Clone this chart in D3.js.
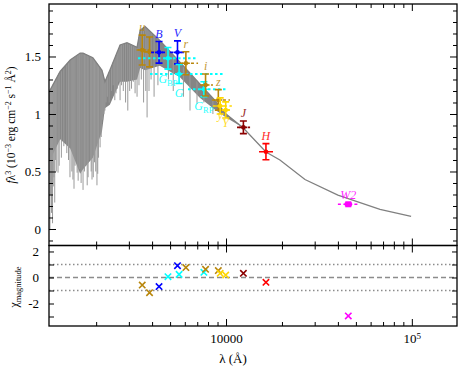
<!DOCTYPE html>
<html lang="en">
<head>
<meta charset="UTF-8">
<title>SED fit</title>
<script src="https://d3js.org/d3.v7.min.js"></script>
<style>
    body { margin: 0; background: #fff; }
    svg { font-family: "Liberation Serif", "DejaVu Serif", serif; }
    .axis path { display: none; }
    .axis line { stroke: #000; stroke-width: 1; }
    .axis text { font-size: 13px; fill: #000; font-family: "Liberation Serif", serif; }
</style>
</head>
<body>
<script>
    // model spectrum (wavelength in Angstrom, f*lambda^3)
    const specWave  = [1115, 1280, 1450, 1640, 1700, 1920, 2150, 2230, 2370, 2690, 2930, 3320, 3450, 3670, 4400, 5650, 7250, 8700, 10000, 12350, 16400, 19500, 26600, 40000, 67400, 99100];
    const specUpper = [1.19, 1.37, 1.47, 1.53, 1.53, 1.49, 1.38, 1.28, 1.38, 1.60, 1.62, 1.58, 1.73, 1.76, 1.64, 1.45, 1.26, 1.12, 1.00, 0.88, 0.67, 0.60, 0.43, 0.295, 0.17, 0.11];
    const specLower = [0.58, 0.78, 0.70, 0.48, 0.52, 0.62, 0.85, 1.05, 1.08, 1.28, 1.28, 1.30, 1.40, 1.38, 1.42, 1.32, 1.14, 1.04, 0.97, 0.88, 0.67, 0.60, 0.43, 0.295, 0.17, 0.11];

    // deep absorption lines: wavelength and bottom value
    const lineWave = [1128, 1135, 1150, 1165, 1175, 1185, 1197, 1210, 1220, 1247, 1265, 1300, 1340, 1390, 1420, 1446, 1480, 1500, 1520, 1540, 1580, 1600, 1630, 1660, 1700, 1730, 1760, 1790, 1810, 1860, 1880, 1900, 1930, 1960, 1990, 2020, 2040, 2060, 2100, 2130, 2170, 2200, 2230, 2260, 2300, 2350, 2420, 2470, 2520, 2560, 2600, 2650, 2690, 2740, 2800, 2880, 2960, 3030, 3100, 3170, 3240, 3320, 3400, 3500, 3600, 3700, 3760, 3850, 3950, 4100, 4300, 4900, 5200, 5900, 6400, 6980, 7600, 8500];
    const lineDepth = [-0.01, 0.30, 0.14, 0.05, 0.37, 0.45, 0.23, 0.60, 0.50, 0.49, 0.55, 0.62, 0.72, 0.66, 0.60, 0.45, 0.50, 0.43, 0.35, 0.55, 0.49, 0.42, 0.52, 0.40, 0.34, 0.50, 0.55, 0.38, 0.45, 0.60, 0.50, 0.43, 0.45, 0.58, 0.50, 0.38, 0.48, 0.62, 0.71, 0.80, 0.95, 1.00, 1.03, 1.10, 1.15, 1.10, 1.20, 1.25, 1.12, 1.18, 1.22, 1.28, 1.12, 1.25, 1.20, 1.10, 1.03, 1.20, 1.22, 1.28, 1.18, 1.15, 1.25, 1.30, 1.10, 1.20, 0.97, 1.20, 1.30, 1.15, 1.25, 1.30, 1.20, 1.15, 1.03, 1.09, 1.10, 1.00];

    // photometry
    const bands    = ["u", "u2", "B", "V", "BP", "G", "RP", "r", "i", "z", "y", "Y", "J", "H", "W2"];
    const bandWave = [3540, 3875, 4360, 5480, 4870, 5590, 7600, 6080, 7760, 9090, 9300, 9960, 12400, 16400, 45500];
    const bandLo   = [3300, 3600, 3950, 5000, 3360, 3900, 6240, 5650, 7240, 8400, 8500, 9500, 11460, 15050, 40000];
    const bandHi   = [3850, 4150, 4850, 5950, 6980, 9880, 10120, 7070, 8510, 10500, 10750, 10500, 13470, 17900, 52000];
    const bandFlux = [1.556, 1.54, 1.536, 1.536, 1.484, 1.348, 1.215, 1.441, 1.252, 1.122, 1.07, 1.035, 0.884, 0.672, 0.215];
    const bandErr  = [0.13, 0.13, 0.094, 0.10, 0.094, 0.083, 0.065, 0.10, 0.096, 0.09, 0.07, 0.07, 0.055, 0.07, 0.01];
    const residual = [-0.58, -1.17, -0.70, 0.91, 0.06, 0.24, 0.40, 0.76, 0.63, 0.53, 0.32, 0.19, 0.32, -0.37, -2.96];

    const xMajor = [10000, 100000];
    const yMajor = [0, 0.5, 1, 1.5];
    const resTicks = [-3, -2, -1, 0, 1, 2];
    const resLabels = [-2, 0, 2];

    const colors = {
        u: "#b8860b", u2: "#b8860b", r: "#b8860b", i: "#b8860b", z: "#b8860b",
        B: "#0000ff", V: "#0000ff",
        BP: "#00ffff", G: "#00ffff", RP: "#00ffff",
        y: "#ffd700", Y: "#ffd700",
        J: "#8b0000", H: "#ff0000", W2: "#ff00ff"
    };
    // label text [main, subscript]; u2 has no label of its own
    const labels = {
        u: ["u"], B: ["B"], V: ["V"], BP: ["G", "BP"], G: ["G"], RP: ["G", "RP"],
        r: ["r"], i: ["i"], z: ["z"], y: ["y"], Y: ["Y"], J: ["J"], H: ["H"], W2: ["W2"]
    };
    // labels placed under the error bar, with their drop
    const below = { BP: 13.5, G: 13.5, RP: 13.5, y: 5, Y: 9 };

    const w = 463, h = 369;
    const left = 49, right = 457;
    const mainTop = 4, mainBottom = 245.5, resBottom = 326;

    const x = d3.scaleLog().domain([1115, 175000]).range([left, right]);
    const y = d3.scaleLinear().domain([-0.1435, 1.9565]).range([mainBottom, mainTop]);
    const yr = d3.scaleLinear().domain([-3.73, 2.46]).range([resBottom, mainBottom]);

    const svg = d3.select("body").append("svg")
        .attr("width", w)
        .attr("height", h);

    svg.append("clipPath").attr("id", "clipMain")
        .append("rect").attr("x", left).attr("y", mainTop)
        .attr("width", right - left).attr("height", mainBottom - mainTop);

    // spectrum
    const spec = specWave.map((d, i) => ({ w: d, hi: specUpper[i], lo: specLower[i] }));
    const gSpec = svg.append("g").attr("clip-path", "url(#clipMain)");

    const bis = d3.bisector(d => d.w).left;
    function upperAt(wl) {
        const i = Math.max(1, bis(spec, wl));
        const a = spec[i - 1], b = spec[i];
        const t = (Math.log(wl) - Math.log(a.w)) / (Math.log(b.w) - Math.log(a.w));
        return a.hi + t * (b.hi - a.hi);
    }

    gSpec.append("path")
        .datum(spec)
        .attr("d", d3.area().x(d => x(d.w)).y0(d => y(d.lo)).y1(d => y(d.hi)))
        .attr("fill", "#858585");

    gSpec.selectAll("line.spike")
        .data(lineWave)
        .enter()
        .append("line")
        .attr("class", "spike")
        .attr("x1", d => x(d)).attr("x2", d => x(d))
        .attr("y1", (d, i) => y(lineDepth[i]))
        .attr("y2", d => y(upperAt(d)))
        .attr("stroke", "#9a9a9a")
        .attr("stroke-width", 1);

    gSpec.append("path")
        .datum(spec)
        .attr("d", d3.line().x(d => x(d.w)).y(d => y(d.hi)))
        .attr("fill", "none")
        .attr("stroke", "#808080")
        .attr("stroke-width", 1.3);

    // photometric points
    const pts = bands.map((b, i) => ({
        b: b, w: bandWave[i], lo: bandLo[i], hi: bandHi[i],
        f: bandFlux[i], e: bandErr[i], r: residual[i]
    }));

    const gPts = svg.append("g");
    pts.forEach(p => {
        const c = colors[p.b];
        const cyan = c === "#00ffff";
        gPts.append("line")
            .attr("x1", x(p.lo)).attr("x2", x(p.hi))
            .attr("y1", y(p.f)).attr("y2", y(p.f))
            .attr("stroke", c)
            .attr("stroke-width", cyan ? 2 : 1.6)
            .attr("stroke-dasharray", cyan ? "2.5,2.5" : "3,2.5");
        const cx = x(p.w), y0 = y(p.f - p.e), y1 = y(p.f + p.e);
        gPts.append("path")
            .attr("d", `M${cx},${y0}V${y1}M${cx - 3.5},${y0}H${cx + 3.5}M${cx - 3.5},${y1}H${cx + 3.5}M${cx - 4},${y(p.f)}H${cx + 4}`)
            .attr("stroke", c)
            .attr("stroke-width", 1.6)
            .attr("fill", "none");
        if (p.b === "W2") {
            gPts.append("rect")
                .attr("x", cx - 3).attr("y", y(p.f) - 3)
                .attr("width", 6).attr("height", 6)
                .attr("fill", c);
        } else {
            gPts.append("circle")
                .attr("cx", cx).attr("cy", y(p.f)).attr("r", 2.3)
                .attr("fill", c);
        }
    });

    // band labels
    pts.filter(p => labels[p.b]).forEach(p => {
        const lab = labels[p.b];
        const cx = x(p.w);
        const ty = p.b in below ? y(p.f - p.e) + below[p.b] : y(p.f + p.e) - 4;
        const t = gPts.append("text")
            .attr("x", cx).attr("y", ty)
            .attr("text-anchor", "middle")
            .attr("fill", colors[p.b])
            .attr("opacity", 0.85)
            .style("font-size", "12px")
            .style("font-style", "italic");
        t.append("tspan").text(lab[0]);
        if (lab[1]) {
            t.append("tspan").attr("dy", 3).style("font-size", "8.5px").style("font-style", "normal").text(lab[1]);
        }
    });

    // residual panel guides
    const gRes = svg.append("g");
    [[1, "1.5,2.5"], [-1, "1.5,2.5"], [0, "5,3"]].forEach(([v, dash]) => {
        gRes.append("line")
            .attr("x1", left).attr("x2", right)
            .attr("y1", yr(v)).attr("y2", yr(v))
            .attr("stroke", "#8c8c8c")
            .attr("stroke-width", v === 0 ? 1.4 : 1.3)
            .attr("stroke-dasharray", dash);
    });

    gRes.selectAll("path.cross")
        .data(pts)
        .enter()
        .append("path")
        .attr("class", "cross")
        .attr("transform", d => `translate(${x(d.w)},${yr(d.r)})`)
        .attr("d", "M-3.2,-3.2L3.2,3.2M-3.2,3.2L3.2,-3.2")
        .attr("stroke", d => colors[d.b])
        .attr("stroke-width", 1.6)
        .attr("fill", "none");

    // axes
    const xMinor = x.ticks().filter(d => !xMajor.includes(d));

    function xAxes(yPos, top, withLabels) {
        const mk = top ? d3.axisTop : d3.axisBottom;
        svg.append("g").attr("class", "axis")
            .attr("transform", `translate(0,${yPos})`)
            .call(mk(x).tickValues(xMinor).tickSize(-4).tickFormat(""));
        const g = svg.append("g").attr("class", "axis")
            .attr("transform", `translate(0,${yPos})`)
            .call(mk(x).tickValues(xMajor).tickSize(-7).tickPadding(8)
                .tickFormat(d => withLabels ? (d === 10000 ? "10000" : "10") : ""));
        if (withLabels) {
            g.selectAll("text").filter(d => d === 100000)
                .append("tspan").attr("dy", "-0.45em").style("font-size", "9px").text("5");
        }
    }
    xAxes(mainTop, true, false);
    xAxes(mainBottom, false, false);
    xAxes(mainBottom, true, false);
    xAxes(resBottom, false, true);

    const yMinor = d3.range(-1, 20).map(d => d / 10).filter(d => !yMajor.includes(d));
    [[left, d3.axisLeft, true], [right, d3.axisRight, false]].forEach(([xp, mk, lab]) => {
        svg.append("g").attr("class", "axis")
            .attr("transform", `translate(${xp},0)`)
            .call(mk(y).tickValues(yMinor).tickSize(-4).tickFormat(""));
        svg.append("g").attr("class", "axis")
            .attr("transform", `translate(${xp},0)`)
            .call(mk(y).tickValues(yMajor).tickSize(-7).tickPadding(8)
                .tickFormat(d => lab ? String(d) : ""));
        svg.append("g").attr("class", "axis")
            .attr("transform", `translate(${xp},0)`)
            .call(mk(yr).tickValues(resTicks).tickSize(-5).tickPadding(10)
                .tickFormat(d => lab && resLabels.includes(d) ? String(d) : ""));
    });

    // frames
    [[mainTop, mainBottom], [mainBottom, resBottom]].forEach(([t, b]) => {
        svg.append("rect")
            .attr("x", left).attr("y", t)
            .attr("width", right - left).attr("height", b - t)
            .attr("fill", "none")
            .attr("stroke", "#000")
            .attr("stroke-width", 1.3);
    });

    // axis titles
    const yl = svg.append("text")
        .attr("transform", `translate(15,125) rotate(-90)`)
        .attr("text-anchor", "middle")
        .style("font-size", "11.5px");
    yl.append("tspan").style("font-style", "italic").text("f");
    yl.append("tspan").text("λ");
    yl.append("tspan").attr("dy", -4).style("font-size", "8px").text("3");
    yl.append("tspan").attr("dy", 4).text(" (10");
    yl.append("tspan").attr("dy", -4).style("font-size", "8px").text("−3");
    yl.append("tspan").attr("dy", 4).text(" erg cm");
    yl.append("tspan").attr("dy", -4).style("font-size", "8px").text("−2");
    yl.append("tspan").attr("dy", 4).text(" s");
    yl.append("tspan").attr("dy", -4).style("font-size", "8px").text("−1");
    yl.append("tspan").attr("dy", 4).text(" Å");
    yl.append("tspan").attr("dy", -4).style("font-size", "8px").text("2");
    yl.append("tspan").attr("dy", 4).text(")");

    const rl = svg.append("text")
        .attr("transform", `translate(18,287) rotate(-90)`)
        .attr("text-anchor", "middle")
        .style("font-size", "12px");
    rl.append("tspan").text("χ");
    rl.append("tspan").attr("dy", 3).style("font-size", "8.5px").text("magnitude");

    svg.append("text")
        .attr("x", 233).attr("y", 363)
        .attr("text-anchor", "middle")
        .style("font-size", "13px")
        .text("λ (Å)");
</script>
</body>
</html>
